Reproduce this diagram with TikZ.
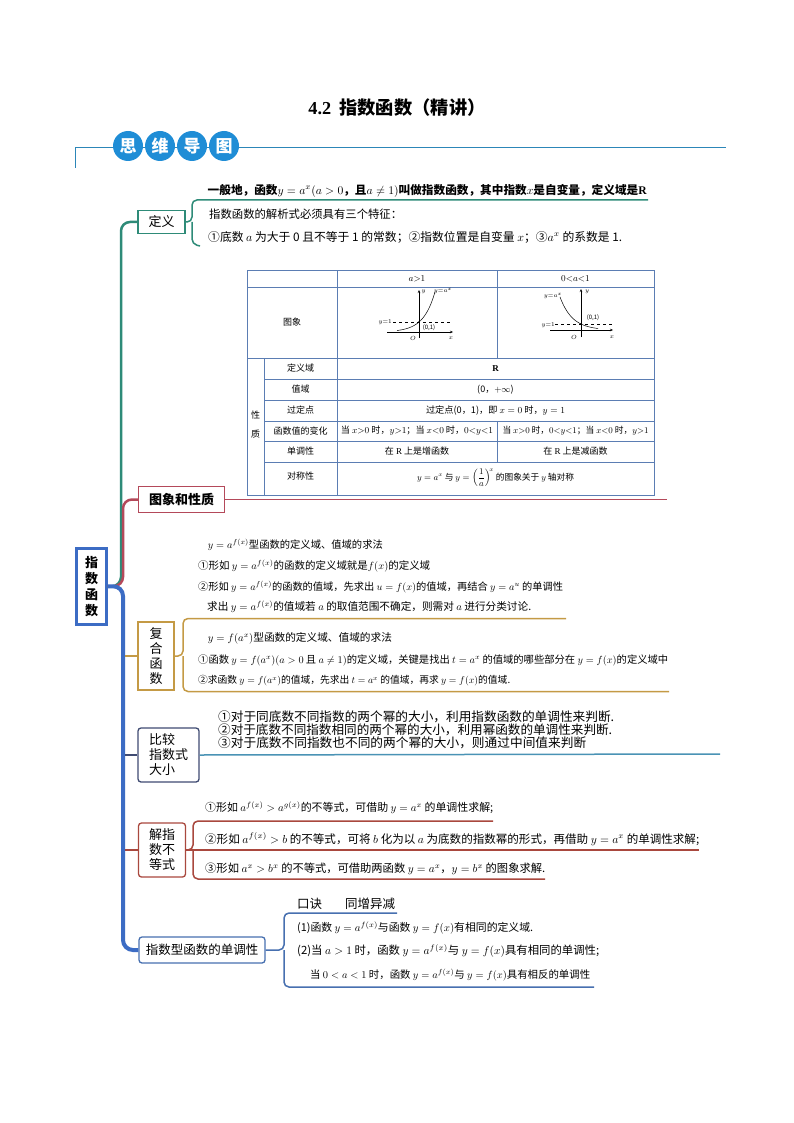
\documentclass[tikz,border=0pt]{standalone}
\usepackage{fontspec}
\setmainfont{Noto Sans CJK SC}
\newfontfamily\tnr{Liberation Serif}
\usepackage{graphicx}
\usetikzlibrary{arrows.meta}
\newcommand\fw[2]{\resizebox{#1pt}{!}{#2}}
\definecolor{hdrblue}{HTML}{1F8DD6}
\definecolor{hdrline}{HTML}{2C86B8}
\definecolor{cgreen}{HTML}{2E8B78}
\definecolor{cred}{HTML}{B4495A}
\definecolor{croot}{HTML}{3C6CC4}
\definecolor{cgold}{HTML}{C49A45}
\definecolor{cslate}{HTML}{3F4B72}
\definecolor{cteal}{HTML}{4A93B5}
\definecolor{cbrick}{HTML}{A9483E}
\definecolor{cblue2}{HTML}{4770B0}
\definecolor{ctab}{HTML}{5B7DB3}
\begin{document}
\begin{tikzpicture}[x=1pt,y=-1pt,
 txt/.style={anchor=west,inner sep=0pt},
 ctr/.style={inner sep=0pt},
 tb/.style={inner sep=0pt,font=\fontsize{9}{10}\selectfont},
 gl/.style={inner sep=0pt,font=\fontsize{6}{6}\selectfont},
 box/.style={draw,line width=1.3pt,fill=white,inner sep=0pt,align=center,font=\fontsize{13}{15}\selectfont},
 hc/.style={circle,fill=hdrblue,minimum size=30pt,inner sep=0pt,text=white,font=\fontsize{17}{17}\selectfont\bfseries},
 brace/.style={line width=1.5pt,rounded corners=5pt},
 ax/.style={line width=0.5pt,-{Stealth[length=3pt,width=2.5pt]}}
]
\useasboundingbox (0,0) rectangle (794,1123);
\fill[white] (0,0) rectangle (794,1123);

% title
\node[ctr] (title) at (397,108) {\fw{177}{{\tnr\bfseries 4.2}\ \ {\bfseries 指数函数（精讲）}}};

% header
\coordinate (hd) at (75,168);
\coordinate (hl) at (75,148);
\coordinate (hr) at (726,148);
\draw[hdrline,line width=1pt] (hd) -- (hl) -- (hr);
\node[hc] (h1) at (128,146) {思};
\node[hc] (h2) at (160,146) {维};
\node[hc] (h3) at (192,146) {导};
\node[hc] (h4) at (224,146) {图};

% root and branch boxes
\node[draw=croot,line width=2.5pt,fill=white,minimum width=30pt,minimum height=76pt,inner sep=0pt,align=center,font=\fontsize{13}{16}\selectfont\bfseries] (root) at (91.5,586.5) {指\\数\\函\\数};
\coordinate (tk1) at (121,586);
\coordinate (tk2) at (123,586);

\node[box,draw=cgreen,minimum width=47pt,minimum height=23pt] (def) at (161.5,222) {定义};
\node[box,draw=cred,minimum width=86pt,minimum height=26pt,font=\fontsize{13}{15}\selectfont\bfseries] (img) at (181.5,499.5) {图象和性质};
\node[box,draw=cgold,minimum width=36pt,minimum height=68pt,font=\fontsize{13}{15}\selectfont] (comp) at (156,656) {复\\合\\函\\数};
\node[box,draw=cslate,rounded corners=3pt,minimum width=61pt,minimum height=54pt,align=left] (cmp) at (168.5,755) {比较\\指数式\\大小};
\node[box,draw=cbrick,rounded corners=3pt,minimum width=47pt,minimum height=54pt] (ineq) at (162,850) {解指\\数不\\等式};
\node[box,draw=cblue2,rounded corners=3pt,minimum width=126pt,minimum height=26pt,font=\fontsize{12.5}{14}\selectfont] (mono) at (202,950) {指数型函数的单调性};

% trunk connections
\coordinate (gtop) at (121,222);
\coordinate (rtop) at (123,499.5);
\coordinate (bbot) at (123,950);
\draw[cgreen,line width=2.5pt,rounded corners=9pt] (root.east) -- (tk1) -- (gtop) -- (def.west);
\draw[cred,line width=2.5pt,rounded corners=9pt] (root.east) -- (tk2) -- (rtop) -- (img.west);
\draw[croot,line width=4pt,rounded corners=10pt] (root.east) -- (tk2) -- (bbot) -- (mono.west);
\coordinate (s1) at (125,656);
\coordinate (s2) at (125,755);
\coordinate (s3) at (125,850);
\draw[cgold,line width=2pt] (s1) -- (comp.west);
\draw[cslate,line width=1.5pt] (s2) -- (cmp.west);
\draw[cbrick,line width=1.5pt] (s3) -- (ineq.west);

% definition brace and text
\coordinate (d1) at (192,200);
\coordinate (d1e) at (648,200);
\coordinate (d2) at (192,244);
\coordinate (d2e) at (200,246);
\draw[cgreen,brace] (d1e) -- (d1) -- (d1 |- def.east) -- (def.east);
\draw[cgreen,brace] (d1 |- def.east) -- (d2) -- (d2e);
\node[txt] (L1) at (207.5,190.5) {\fw{439}{\bfseries 一般地，函数$y=a^x(a>0$，且$a\neq 1)$叫做指数函数，其中指数$x$是自变量，定义域是{\tnr R}}};
\node[txt] (L2) at (209,214) {\fw{193}{指数函数的解析式必须具有三个特征：}};
\node[txt] (L3) at (208,237) {\fw{414}{①底数 $a$ 为大于 0 且不等于 1 的常数；②指数位置是自变量 $x$；③$a^x$ 的系数是 1.}};

% image-and-property line
\coordinate (imge) at (667,499.5);
\draw[cred,line width=1.5pt] (img.east) -- (imge);

% table
\draw[ctab,line width=0.9pt] (247,270) rectangle (654,495);
\draw[ctab,line width=0.9pt] (247,287) -- (654,287) (247,358) -- (654,358);
\foreach \yy in {379,400,421,441,462} \draw[ctab,line width=0.9pt] (264,\yy) -- (654,\yy);
\draw[ctab,line width=0.9pt] (337,270) -- (337,495) (264,358) -- (264,495) (497,270) -- (497,358) (497,421) -- (497,462);
\node[tb] (th1) at (417,278.5) {$a{>}1$};
\node[tb] (th2) at (575.5,278.5) {$0{<}a{<}1$};
\node[tb] (tim) at (292,322) {图象};
\node[tb,align=center,font=\fontsize{9}{19}\selectfont] (txz) at (255.5,425) {性\\质};
\node[tb] (r1) at (300.5,368.5) {定义域};
\node[tb] (r2) at (300.5,389.5) {值域};
\node[tb] (r3) at (300.5,410.5) {过定点};
\node[tb] (r4) at (300.5,431) {函数值的变化};
\node[tb] (r5) at (300.5,451.5) {单调性};
\node[tb] (r6) at (300.5,476) {对称性};
\node[tb] (v1) at (495.5,368.5) {{\tnr\bfseries R}};
\node[tb] (v2) at (495.5,389.5) {(0，$+\infty$)};
\node[tb] (v3) at (495.5,410.5) {\fw{139}{过定点(0，1)，即 $x=0$ 时，$y=1$}};
\node[tb] (v4a) at (417,431) {\fw{152}{当 $x{>}0$ 时，$y{>}1$；当 $x{<}0$ 时，$0{<}y{<}1$}};
\node[tb] (v4b) at (575.5,431) {\fw{146}{当 $x{>}0$ 时，$0{<}y{<}1$；当 $x{<}0$ 时，$y{>}1$}};
\node[tb] (v5a) at (417,451.5) {在 {\tnr R} 上是增函数};
\node[tb] (v5b) at (575.5,451.5) {在 {\tnr R} 上是减函数};
\node[tb] (v6) at (495.5,478) {\fw{157}{$y=a^x$ 与 $y=\left({\displaystyle\frac{1}{a}}\right)^{\!x}$ 的图象关于 $y$ 轴对称}};

% left graph
\draw[ax] (387,332) -- (453,332);
\draw[ax] (419,338) -- (419,290);
\draw[dashed,line width=0.4pt] (393,322) -- (452,322);
\draw[line width=0.5pt,domain=-22:16,samples=40] plot ({419+\x},{332-10*exp(\x/11.5)});
\fill (419,322) circle (0.8pt);
\node[gl,anchor=east] (gy1) at (392,322) {$y{=}1$};
\node[gl] (g01) at (429,327.5) {(0,1)};
\node[gl] (gO) at (413,338) {$O$};
\node[gl] (gx) at (451,338) {$x$};
\node[gl] (gy) at (423.5,292) {$y$};
\node[gl] (gf) at (443,291) {$y{=}a^x$};

% right graph
\draw[ax] (550,330) -- (613,330);
\draw[ax] (581,337) -- (581,289);
\draw[dashed,line width=0.4pt] (555,324) -- (612,324);
\draw[line width=0.5pt,domain=-21:17,samples=40] plot ({581+\x},{330-6*exp(-\x/12.3)});
\fill (581,324) circle (0.8pt);
\node[gl] (hf) at (553,296) {$y{=}a^x$};
\node[gl] (hy) at (587,292) {$y$};
\node[gl] (h01) at (593,318) {(0,1)};
\node[gl,anchor=east] (hy1) at (555,325) {$y{=}1$};
\node[gl] (hO) at (574,337) {$O$};
\node[gl] (hx) at (612,337) {$x$};

% composite: a^{f(x)} group
\node[txt] (C1) at (207.7,545) {\fw{175}{$y=a^{f(x)}$型函数的定义域、值域的求法}};
\node[txt] (C1a) at (198,566) {\fw{232}{①形如 $y=a^{f(x)}$的函数的定义域就是$f(x)$的定义域}};
\node[txt] (C1b) at (198,587) {\fw{365}{②形如 $y=a^{f(x)}$的函数的值域，先求出 $u=f(x)$的值域，再结合 $y=a^u$ 的单调性}};
\node[txt] (C1c) at (207,607) {\fw{324}{求出 $y=a^{f(x)}$的值域若 $a$ 的取值范围不确定，则需对 $a$ 进行分类讨论.}};

% composite brace
\coordinate (c1) at (183,618.5);
\coordinate (c1e) at (566,618.5);
\coordinate (c2) at (183,691.5);
\coordinate (c2e) at (669,691.5);
\draw[cgold,brace] (c1e) -- (c1) -- (c1 |- comp.east) -- (comp.east);
\draw[cgold,brace] (c1 |- comp.east) -- (c2) -- (c2e);
\node[txt] (C2) at (207.7,638) {\fw{184}{$y=f(a^x)$型函数的定义域、值域的求法}};
\node[txt] (C2a) at (198,660) {\fw{470}{①函数 $y=f(a^x)(a>0$ 且 $a\neq 1)$的定义域，关键是找出 $t=a^x$ 的值域的哪些部分在 $y=f(x)$的定义域中}};
\node[txt] (C2b) at (198,681) {\fw{312}{②求函数 $y=f(a^x)$的值域，先求出 $t=a^x$ 的值域，再求 $y=f(x)$的值域.}};

% compare
\coordinate (ke) at (720,754);
\draw[cteal,line width=1.5pt] (cmp.east) -- (ke);
\node[txt] (K1) at (218,717) {\fw{396}{①对于同底数不同指数的两个幂的大小，利用指数函数的单调性来判断.}};
\node[txt] (K2) at (218,730) {\fw{394}{②对于底数不同指数相同的两个幂的大小，利用幂函数的单调性来判断.}};
\node[txt] (K3) at (218,743) {\fw{368}{③对于底数不同指数也不同的两个幂的大小，则通过中间值来判断}};

% inequality brace
\coordinate (i1) at (193,821);
\coordinate (i1e) at (493,821);
\coordinate (i2e) at (699,850);
\coordinate (i3) at (193,879);
\coordinate (i3e) at (545,879);
\draw[cbrick,brace] (i1e) -- (i1) -- (i1 |- ineq.east) -- (ineq.east);
\draw[cbrick,brace] (i1 |- ineq.east) -- (i3) -- (i3e);
\draw[cbrick,line width=1.5pt] (ineq.east) -- (i2e);
\node[txt] (I1) at (205,808) {\fw{288}{①形如 $a^{f(x)}>a^{g(x)}$的不等式，可借助 $y=a^x$ 的单调性求解;}};
\node[txt] (I2) at (205,839) {\fw{494}{②形如 $a^{f(x)}>b$ 的不等式，可将 $b$ 化为以 $a$ 为底数的指数幂的形式，再借助 $y=a^x$ 的单调性求解;}};
\node[txt] (I3) at (205,869) {\fw{340}{③形如 $a^x>b^x$ 的不等式，可借助两函数 $y=a^x$，$y=b^x$ 的图象求解.}};

% monotonic brace
\coordinate (m1) at (284,913);
\coordinate (m1e) at (397,913);
\coordinate (m2) at (284,987);
\coordinate (m2e) at (594,987);
\draw[cblue2,brace] (m1e) -- (m1) -- (m1 |- mono.east) -- (mono.east);
\draw[cblue2,brace] (m1 |- mono.east) -- (m2) -- (m2e);
\node[txt,font=\fontsize{12.5}{14}\selectfont] (M0a) at (297,904) {口诀};
\node[txt,font=\fontsize{12.5}{14}\selectfont] (M0b) at (345,904) {同增异减};
\node[txt] (M1) at (297,928) {\fw{236}{(1)函数 $y=a^{f(x)}$与函数 $y=f(x)$有相同的定义域.}};
\node[txt] (M2) at (297,951) {\fw{302}{(2)当 $a>1$ 时，函数 $y=a^{f(x)}$与 $y=f(x)$具有相同的单调性;}};
\node[txt] (M3) at (310,975) {\fw{280}{当 $0<a<1$ 时，函数 $y=a^{f(x)}$与 $y=f(x)$具有相反的单调性}};
\end{tikzpicture}
\end{document}
